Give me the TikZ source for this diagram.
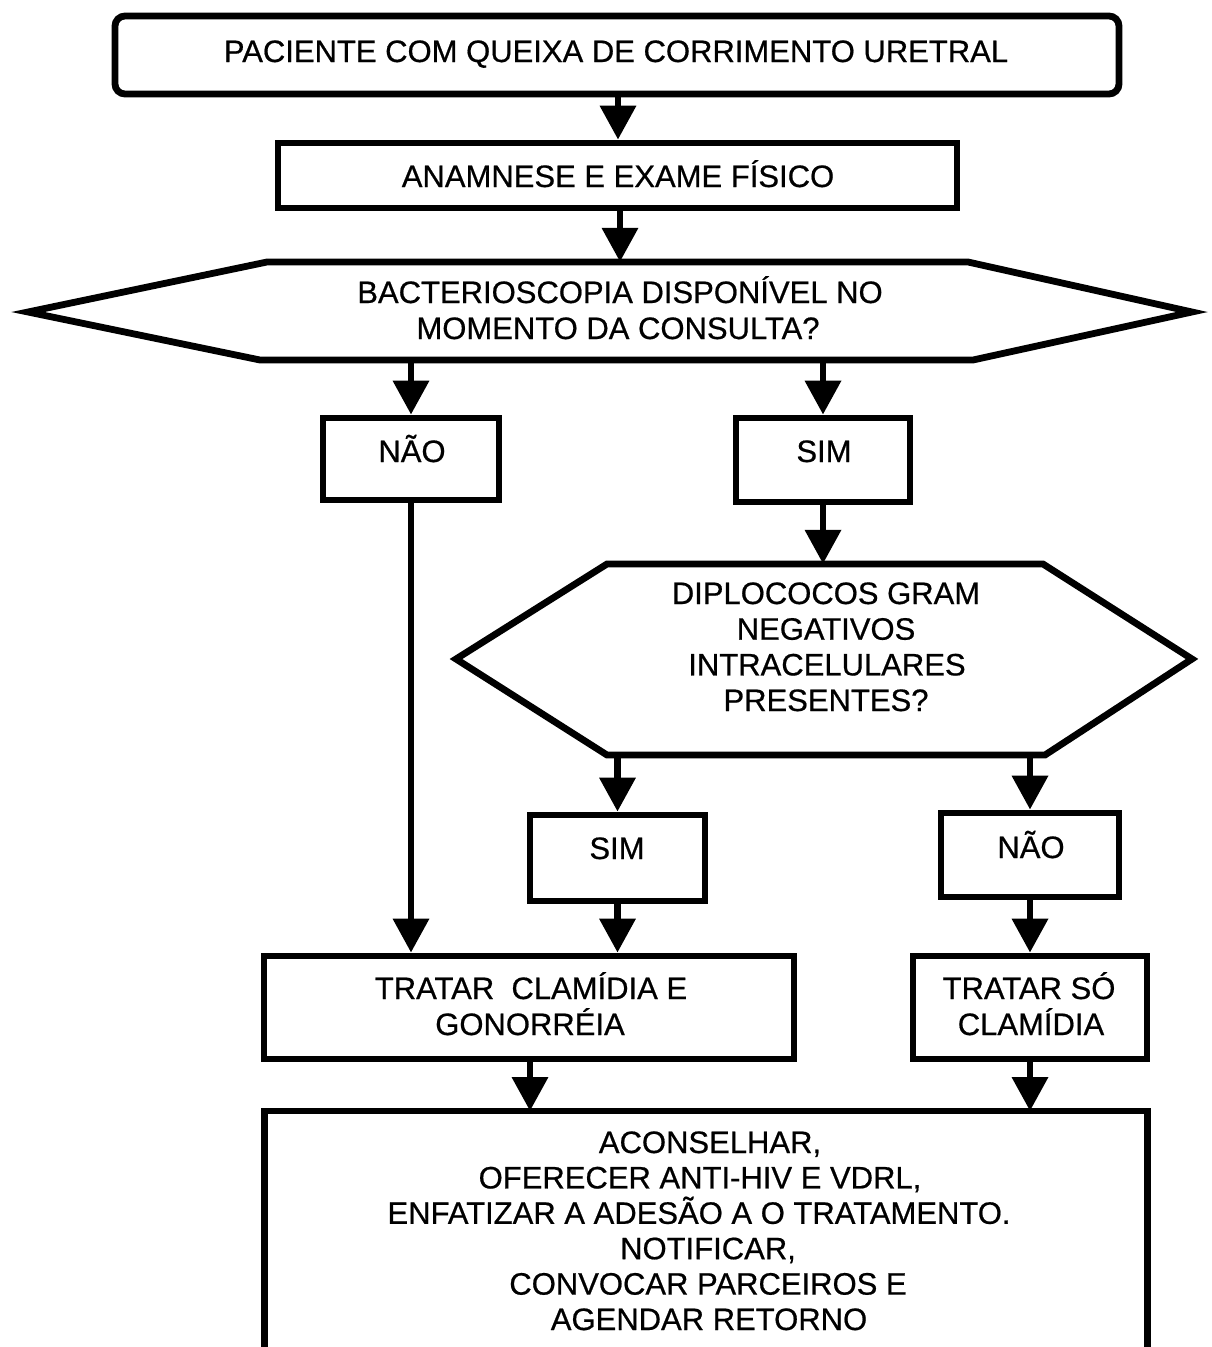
\documentclass[tikz,border=0pt]{standalone}
\usepackage{fontspec}
\setmainfont[FakeBold=0.6]{Liberation Sans}
\usetikzlibrary{arrows.meta}
\begin{document}
\begin{tikzpicture}[x=1pt,y=-1pt,
  box/.style={draw, line width=6.8pt, inner sep=0pt},
  ghost/.style={inner sep=0pt},
  txt/.style={anchor=base, inner sep=0pt, font=\fontsize{31}{35.5}\selectfont},
  arr/.style={line width=6.8pt, -{Triangle[width=35pt,length=34pt]}},
  ln/.style={line width=6.8pt}]
\useasboundingbox (0,0) rectangle (1212,1347);

% top boxes
\node[box, rounded corners=10pt, minimum width=1004pt, minimum height=78pt] (b1) at (617,55) {};
\node[txt] (tb1) at (616,62) {PACIENTE COM QUEIXA DE CORRIMENTO URETRAL};
\node[box, minimum width=679pt, minimum height=65pt] (b2) at (617.5,175.5) {};
\node[txt] (tb2) at (618,187) {ANAMNESE E EXAME FÍSICO};

% hexagon 1
\node[ghost, minimum width=1164pt, minimum height=98pt] (h1) at (611,311) {};
\draw[ln, line join=miter] (267,262) -- (968,262) -- (1192,312) -- (973,360) -- (260,360) -- (28,312) -- cycle;
\node[txt] (th1a) at (620,303) {BACTERIOSCOPIA DISPONÍVEL NO};
\node[txt] (th1b) at (618,339) {MOMENTO DA CONSULTA?};

% first answers
\node[box, minimum width=176pt, minimum height=82pt] (n1) at (411,459) {};
\node[txt] (tn1) at (412,462) {NÃO};
\node[box, minimum width=174pt, minimum height=84pt] (s1) at (823,460) {};
\node[txt] (ts1) at (824,462) {SIM};

% hexagon 2
\node[ghost, minimum width=736pt, minimum height=191pt] (h2) at (824,659.5) {};
\draw[ln, line join=miter] (607,564) -- (1043,564) -- (1192,659) -- (1045,755) -- (607,755) -- (456,659) -- cycle;
\node[txt] (th2a) at (826,604) {DIPLOCOCOS GRAM};
\node[txt] (th2b) at (826,639.7) {NEGATIVOS};
\node[txt] (th2c) at (827,675.4) {INTRACELULARES};
\node[txt] (th2d) at (826,711) {PRESENTES?};

% second answers
\node[box, minimum width=175pt, minimum height=86pt] (s2) at (617.5,858) {};
\node[txt] (ts2) at (617,859) {SIM};
\node[box, minimum width=178pt, minimum height=84pt] (n2) at (1030,855) {};
\node[txt] (tn2) at (1031,858) {NÃO};

% treatments
\node[box, minimum width=530pt, minimum height=103pt] (tc) at (529,1007.5) {};
\node[txt] (ttca) at (531,999) {TRATAR\ \ CLAMÍDIA E};
\node[txt] (ttcb) at (530,1035) {GONORRÉIA};
\node[box, minimum width=234pt, minimum height=103pt] (ts) at (1030,1007.5) {};
\node[txt] (ttsa) at (1029,999) {TRATAR SÓ};
\node[txt] (ttsb) at (1031,1035) {CLAMÍDIA};

% final box (open at the bottom)
\node[ghost, anchor=north, minimum width=882pt, minimum height=260pt] (fin) at (706,1111) {};
\draw[ln, line join=miter] (fin.south west) -- (fin.north west) -- (fin.north east) -- (fin.south east);
\node[txt] (tf1) at (710,1153) {ACONSELHAR,};
\node[txt] (tf2) at (700,1188.4) {OFERECER ANTI-HIV E VDRL,};
\node[txt] (tf3) at (699,1223.8) {ENFATIZAR A ADESÃO A O TRATAMENTO.};
\node[txt] (tf4) at (708,1259.2) {NOTIFICAR,};
\node[txt] (tf5) at (708,1294.6) {CONVOCAR PARCEIROS E};
\node[txt] (tf6) at (709,1330) {AGENDAR RETORNO};

% connectors
\draw[arr] (b1.south -| 618,0) -- (b2.north -| 618,0);
\draw[arr] (b2.south -| 620,0) -- (h1.north -| 620,0);
\draw[arr] (h1.south -| n1.north) -- (n1.north);
\draw[arr] (h1.south -| s1.north) -- (s1.north);
\draw[arr] (s1.south) -- (h2.north -| s1.south);
\draw[arr] (h2.south -| s2.north) -- (s2.north);
\draw[arr] (h2.south -| n2.north) -- (n2.north);
\draw[arr] (n1.south) -- (tc.north -| n1.south);
\draw[arr] (s2.south) -- (tc.north -| s2.south);
\draw[arr] (n2.south) -- (ts.north);
\draw[arr] (tc.south -| 530,0) -- (fin.north -| 530,0);
\draw[arr] (ts.south) -- (fin.north -| ts.south);
\end{tikzpicture}
\end{document}
